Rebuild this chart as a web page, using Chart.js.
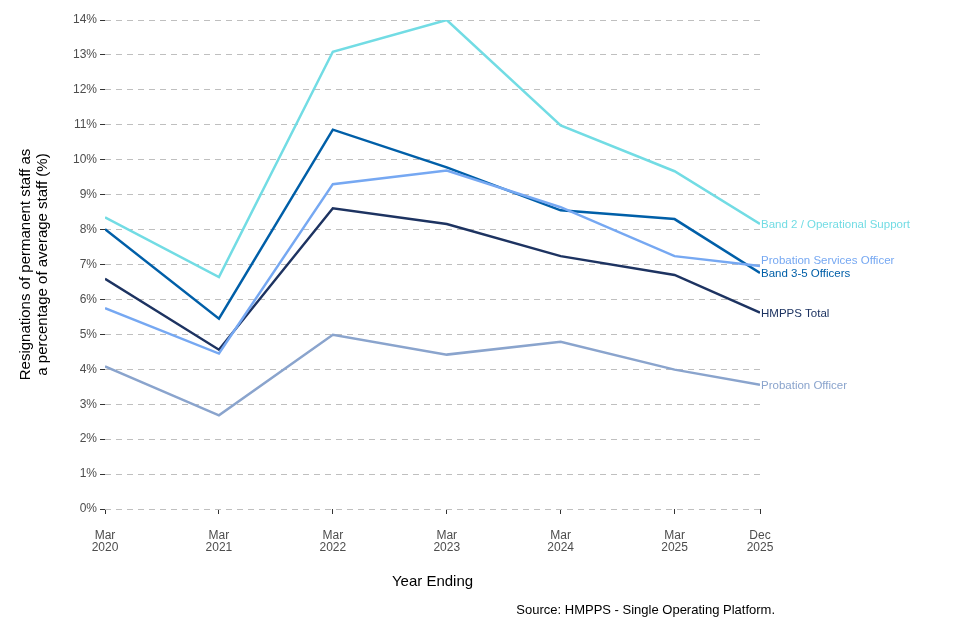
<!DOCTYPE html>
<html>
<head>
<meta charset="utf-8">
<script src="https://cdn.jsdelivr.net/npm/chart.js@4"></script>
<style>
  html, body { margin: 0; padding: 0; background: #fff; }
  #wrap { width: 960px; height: 640px; position: relative; }
</style>
</head>
<body>
<div id="wrap"><canvas id="chart"></canvas></div>
<script>
// months since Mar 2020, and their tick labels
const periodMonths = [0, 12, 24, 36, 48, 60, 69];
const periodLabels = [['Mar', '2020'], ['Mar', '2021'], ['Mar', '2022'], ['Mar', '2023'], ['Mar', '2024'], ['Mar', '2025'], ['Dec', '2025']];

const seriesNames = ['Band 2 / Operational Support', 'Probation Services Officer', 'Band 3-5 Officers', 'HMPPS Total', 'Probation Officer'];
const band2 = [8.35, 6.64, 13.09, 14.0, 10.98, 9.67, 8.16];
const pso = [5.75, 4.45, 9.30, 9.69, 8.64, 7.24, 6.96];
const band35 = [8.01, 5.45, 10.86, 9.78, 8.55, 8.30, 6.76];
const hmppsTotal = [6.59, 4.56, 8.61, 8.16, 7.24, 6.70, 5.62];
const probationOfficer = [4.08, 2.68, 4.99, 4.42, 4.79, 3.99, 3.56];

const seriesColors = ['#72dce4', '#76a8f2', '#005fa8', '#1d3361', '#8aa4cd'];
const seriesValues = [band2, pso, band35, hmppsTotal, probationOfficer];

const FONT = '"Liberation Sans", Arial, sans-serif';

const endLabels = {
  id: 'endLabels',
  afterDatasetsDraw(chart) {
    const { ctx } = chart;
    ctx.save();
    ctx.font = '11.5px ' + FONT;
    ctx.textBaseline = 'middle';
    ctx.textAlign = 'left';
    chart.data.datasets.forEach((ds, i) => {
      const meta = chart.getDatasetMeta(i);
      const pt = meta.data[meta.data.length - 1];
      let y = pt.y;
      // nudge the overlapping label up, as in the original
      if (ds.label === 'Probation Services Officer') y -= 6;
      ctx.fillStyle = ds.borderColor;
      ctx.fillText(ds.label, pt.x + 1, y + 1);
    });
    ctx.font = '13px ' + FONT;
    ctx.fillStyle = '#000';
    ctx.textAlign = 'right';
    ctx.fillText('Source: HMPPS - Single Operating Platform.', chart.chartArea.right + 15, 610);
    ctx.restore();
  }
};

new Chart(document.getElementById('chart'), {
  type: 'line',
  data: {
    datasets: seriesNames.map((name, i) => ({
      label: name,
      data: seriesValues[i].map((v, j) => ({ x: periodMonths[j], y: v })),
      borderColor: seriesColors[i],
      backgroundColor: seriesColors[i],
      borderWidth: 2.5,
      pointRadius: 0,
      tension: 0
    }))
  },
  options: {
    responsive: true,
    maintainAspectRatio: false,
    animation: false,
    layout: { padding: { left: 14, right: 200, top: 20, bottom: 45 } },
    plugins: {
      legend: { display: false },
      tooltip: { enabled: false }
    },
    scales: {
      x: {
        type: 'linear',
        min: 0,
        max: 69,
        afterBuildTicks(scale) {
          scale.ticks = periodMonths.map(v => ({ value: v }));
        },
        ticks: {
          autoSkip: false,
          maxRotation: 0,
          color: '#4d4d4d',
          font: { family: FONT, size: 12, lineHeight: 1.0 },
          padding: 16,
          callback: (v) => periodLabels[periodMonths.indexOf(v)]
        },
        grid: {
          drawOnChartArea: false,
          drawTicks: true,
          tickLength: 5,
          tickColor: '#333'
        },
        border: { display: false },
        title: {
          display: true,
          text: 'Year Ending',
          color: '#000',
          font: { family: FONT, size: 15 },
          padding: { top: 3 }
        }
      },
      y: {
        min: 0,
        max: 14,
        ticks: {
          stepSize: 1,
          color: '#4d4d4d',
          font: { family: FONT, size: 12 },
          padding: 3,
          callback: (v) => v + '%'
        },
        grid: {
          color: '#bfbfbf',
          lineWidth: 1,
          tickColor: '#333',
          tickLength: 5,
          tickBorderDash: []
        },
        border: { display: false, dash: [6, 5] },
        title: {
          display: true,
          text: ['Resignations of permanent staff as', 'a percentage of average staff (%)'],
          color: '#000',
          font: { family: FONT, size: 15, lineHeight: 1.1 },
          padding: { bottom: 19 }
        }
      }
    }
  },
  plugins: [endLabels]
});
</script>
</body>
</html>
